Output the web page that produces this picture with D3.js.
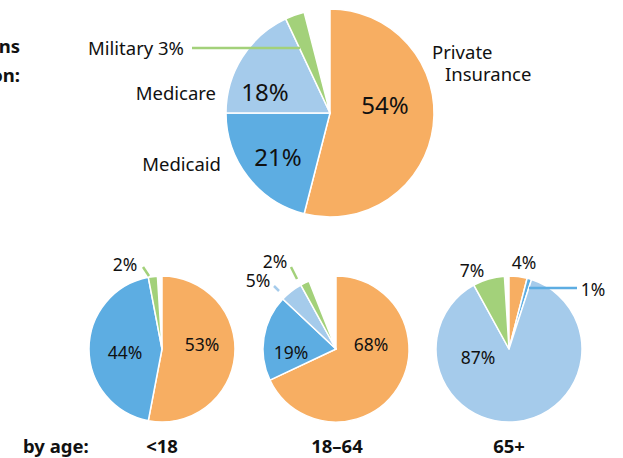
<!DOCTYPE html>
<html>
<head>
<meta charset="utf-8">
<script src="https://cdn.jsdelivr.net/npm/d3@7"></script>
<style>
  html, body { margin: 0; padding: 0; background: #fff; }
  svg { display: block; font-family: "Noto Sans", "Open Sans", sans-serif; }
</style>
</head>
<body>
<svg id="chart" width="623" height="458"></svg>
<script>
// Coverage sources, in drawing order (clockwise from 12 o'clock)
const sources = ["Private Insurance", "Medicaid", "Medicare", "Military", "Other"];
const sourceColors = ["#f7ae62", "#5dade2", "#a5cbeb", "#a3d17a", "#ffffff"];

// Whole population (percent)
const totalValues = [54, 21, 18, 3, 4];

// By age group (percent)
const ageGroups = ["<18", "18–64", "65+"];
const under18Values = [53, 44, 0, 2, 1];
const age18to64Values = [68, 19, 5, 2, 6];
const over65Values = [4, 1, 87, 7, 1];

const svg = d3.select("#chart");
const color = d3.scaleOrdinal().domain(sources).range(sourceColors);

const pie = d3.pie().sort(null).value(d => d.value);

function drawPie(values, cx, cy, r) {
  const data = sources.map((s, i) => ({ key: s, value: values[i] }));
  const arc = d3.arc().innerRadius(0).outerRadius(r);
  const g = svg.append("g").attr("transform", `translate(${cx},${cy})`);
  g.selectAll("path")
    .data(pie(data).filter(d => d.data.key !== "Other" && d.data.value > 0))
    .join("path")
    .attr("d", arc)
    .attr("fill", d => color(d.data.key))
    .attr("stroke", "#fff")
    .attr("stroke-width", 1.5)
    .attr("stroke-linejoin", "round");
  return g;
}

function label(x, y, text, size, weight, anchor) {
  svg.append("text")
    .attr("x", x).attr("y", y)
    .attr("font-size", size)
    .attr("font-weight", weight || "normal")
    .attr("text-anchor", anchor || "middle")
    .attr("fill", "#111")
    .text(text);
}

function leader(x1, y1, x2, y2, key) {
  svg.append("line")
    .attr("x1", x1).attr("y1", y1).attr("x2", x2).attr("y2", y2)
    .attr("stroke", color(key))
    .attr("stroke-width", 2.5);
}

const pct = v => v + "%";

// Title block (runs off the left edge)
label(20, 53, "Sources of coverage for insured persons", 18.5, "bold", "end");
label(20, 82, "in the total population:", 18.5, "bold", "end");

// Total population pie
drawPie(totalValues, 330, 113, 104);
leader(192, 48, 300, 48, "Military");
label(184, 55, "Military " + pct(totalValues[3]), 18.5, "normal", "end");
label(216, 100, "Medicare", 18.5, "normal", "end");
label(221, 171, "Medicaid", 18.5, "normal", "end");
label(265, 101, pct(totalValues[2]), 24);
label(278, 166, pct(totalValues[1]), 24);
label(385, 114, pct(totalValues[0]), 24);
label(432, 59, "Private", 18.5, "normal", "start");
label(445, 81, "Insurance", 18.5, "normal", "start");

// Age-group pies
drawPie(under18Values, 162, 349, 73);
drawPie(age18to64Values, 336, 349, 73);
drawPie(over65Values, 509, 349, 73);

// <18 labels
leader(143, 267, 149, 276, "Military");
label(125, 271, pct(under18Values[3]), 17.5);
label(125, 359, pct(under18Values[1]), 17.5);
label(202, 351, pct(under18Values[0]), 17.5);

// 18–64 labels
leader(291, 267, 297, 279, "Military");
leader(274, 286, 279, 291, "Medicare");
label(275, 268, pct(age18to64Values[3]), 17.5);
label(258, 287, pct(age18to64Values[2]), 17.5);
label(291, 359, pct(age18to64Values[1]), 17.5);
label(371, 351, pct(age18to64Values[0]), 17.5);

// 65+ labels
leader(529, 288, 577, 288, "Medicaid");
label(472, 277, pct(over65Values[3]), 17.5);
label(524, 269, pct(over65Values[0]), 17.5);
label(593, 296, pct(over65Values[1]), 17.5);
label(478, 364, pct(over65Values[2]), 17.5);

// Age axis captions
label(23, 453, "by age:", 18.5, "bold", "start");
label(162, 453, ageGroups[0], 18.5, "bold");
label(337, 453, ageGroups[1], 18.5, "bold");
label(509, 453, ageGroups[2], 18.5, "bold");
</script>
</body>
</html>
